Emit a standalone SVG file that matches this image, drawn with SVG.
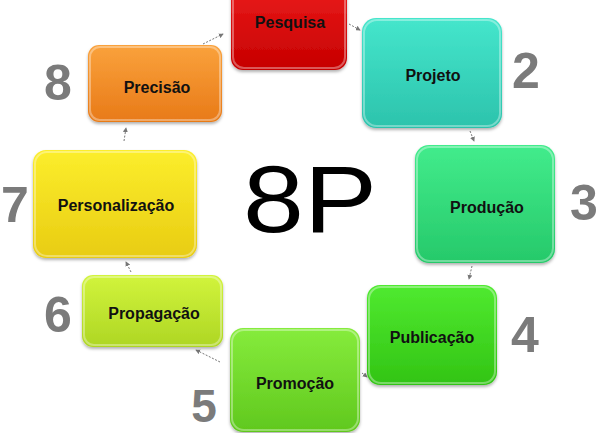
<svg xmlns="http://www.w3.org/2000/svg" width="600" height="433" viewBox="0 0 600 433">
<defs>
<linearGradient id="gRed" x1="0" y1="0" x2="0" y2="1"><stop offset="0" stop-color="#ea1a1a"/><stop offset="1" stop-color="#c60000"/></linearGradient>
<linearGradient id="gTeal" x1="0" y1="0" x2="0" y2="1"><stop offset="0" stop-color="#45e6cc"/><stop offset="1" stop-color="#2cc3ac"/></linearGradient>
<linearGradient id="gSea" x1="0" y1="0" x2="0" y2="1"><stop offset="0" stop-color="#42ec8c"/><stop offset="1" stop-color="#26c96a"/></linearGradient>
<linearGradient id="gGreen" x1="0" y1="0" x2="0" y2="1"><stop offset="0" stop-color="#50ea30"/><stop offset="1" stop-color="#32c414"/></linearGradient>
<linearGradient id="gLime" x1="0" y1="0" x2="0" y2="1"><stop offset="0" stop-color="#86ec3c"/><stop offset="1" stop-color="#60c81e"/></linearGradient>
<linearGradient id="gYG" x1="0" y1="0" x2="0" y2="1"><stop offset="0" stop-color="#d2f43c"/><stop offset="1" stop-color="#aed624"/></linearGradient>
<linearGradient id="gYel" x1="0" y1="0" x2="0" y2="1"><stop offset="0" stop-color="#fcee2c"/><stop offset="1" stop-color="#e8cc12"/></linearGradient>
<linearGradient id="gOr" x1="0" y1="0" x2="0" y2="1"><stop offset="0" stop-color="#faa23c"/><stop offset="1" stop-color="#e87a18"/></linearGradient>
<marker id="ah" viewBox="0 0 6 6" refX="5" refY="3" markerWidth="5" markerHeight="5" orient="auto"><path d="M0,0 L6,3 L0,6 z" fill="#777"/></marker>
<filter id="sh" x="-10%" y="-10%" width="120%" height="130%"><feDropShadow dx="0" dy="2" stdDeviation="1.5" flood-color="#000" flood-opacity="0.3"/></filter>
</defs>
<style>
.box{filter:url(#sh);}
.hl{fill:none;stroke:#fff;stroke-opacity:0.35;stroke-width:2;}
.lbl{font-family:"Liberation Sans",Arial,sans-serif;font-size:16px;font-weight:bold;fill:#111;text-anchor:middle;}
.num{font-family:"Liberation Sans",Arial,sans-serif;font-size:50px;font-weight:bold;fill:#7b7b7b;text-anchor:middle;}
.con{stroke:#777;stroke-width:1;stroke-dasharray:2 1.5;fill:none;marker-end:url(#ah);}
</style>
<rect width="600" height="433" fill="#fff"/>
<g id="connectors">
<line class="con" x1="349" y1="24" x2="360" y2="30"/>
<line class="con" x1="470" y1="131" x2="474" y2="141"/>
<line class="con" x1="472" y1="266" x2="469" y2="279"/>
<line class="con" x1="362" y1="373" x2="367" y2="377"/>
<line class="con" x1="220" y1="362" x2="196" y2="350"/>
<line class="con" x1="131" y1="272" x2="126" y2="262"/>
<line class="con" x1="124" y1="141" x2="126" y2="128"/>
<line class="con" x1="203" y1="44" x2="223" y2="34"/>
</g>
<g id="pesquisa"><rect class="box" x="231" y="-14" width="116" height="84" rx="12" fill="url(#gRed)"/><rect class="hl" x="233" y="-12" width="112" height="80" rx="11"/><text class="lbl" x="290" y="28">Pesquisa</text></g>
<g id="projeto"><rect class="box" x="362" y="18" width="140" height="110" rx="14" fill="url(#gTeal)"/><rect class="hl" x="364" y="20" width="136" height="106" rx="13"/><text class="lbl" x="433" y="81">Projeto</text><text class="num" x="526" y="88">2</text></g>
<g id="producao"><rect class="box" x="415" y="145" width="140" height="118" rx="14" fill="url(#gSea)"/><rect class="hl" x="417" y="147" width="136" height="114" rx="13"/><text class="lbl" x="487" y="213">Produção</text><text class="num" x="584" y="220">3</text></g>
<g id="publicacao"><rect class="box" x="367" y="285" width="130" height="100" rx="13" fill="url(#gGreen)"/><rect class="hl" x="369" y="287" width="126" height="96" rx="12"/><text class="lbl" x="432" y="343">Publicação</text><text class="num" x="525" y="352">4</text></g>
<g id="promocao"><rect class="box" x="230" y="328" width="130" height="104" rx="13" fill="url(#gLime)"/><rect class="hl" x="232" y="330" width="126" height="100" rx="12"/><text class="lbl" x="295" y="389">Promoção</text><text class="num" x="204" y="422" style="font-size:46px">5</text></g>
<g id="propagacao"><rect class="box" x="82" y="275" width="141" height="72" rx="11" fill="url(#gYG)"/><rect class="hl" x="84" y="277" width="137" height="68" rx="10"/><text class="lbl" x="154" y="319">Propagação</text><text class="num" x="58" y="332">6</text></g>
<g id="personalizacao"><rect class="box" x="33" y="150" width="164" height="108" rx="13" fill="url(#gYel)"/><rect class="hl" x="35" y="152" width="160" height="104" rx="12"/><text class="lbl" x="116" y="211">Personalização</text><text class="num" x="15" y="222">7</text></g>
<g id="precisao"><rect class="box" x="88" y="45" width="134" height="77" rx="11" fill="url(#gOr)"/><rect class="hl" x="90" y="47" width="130" height="73" rx="10"/><text class="lbl" x="157" y="93">Precisão</text><text class="num" x="58" y="100">8</text></g>
<text x="310" y="232" font-family="'Liberation Sans',Arial,sans-serif" font-size="94" fill="#000" text-anchor="middle" textLength="134" lengthAdjust="spacingAndGlyphs">8P</text>
</svg>
